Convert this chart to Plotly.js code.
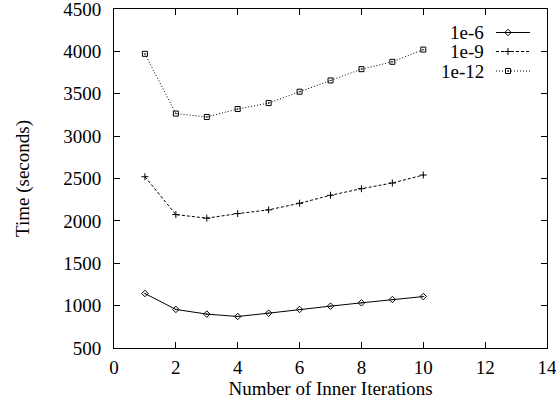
<!DOCTYPE html>
<html>
<head>
<meta charset="utf-8">
<script src="https://cdn.plot.ly/plotly-3.0.1.min.js"></script>
<style>html,body{margin:0;padding:0;background:#fff;}#chart{width:556px;height:400px;}</style>
</head>
<body>
<div id="chart"></div>
<script>
// Data
var iterations = [1, 2, 3, 4, 5, 6, 7, 8, 9, 10];
var tol6  = [1143, 955, 900, 872, 911, 955, 994, 1033, 1072, 1107];
var tol9  = [2521, 2074, 2032, 2086, 2130, 2208, 2302, 2380, 2447, 2541];
var tol12 = [3971, 3266, 3226, 3320, 3390, 3524, 3657, 3790, 3877, 4021];
var seriesNames = ["1e-6", "1e-9", "1e-12"];
var xTicks = [0, 2, 4, 6, 8, 10, 12, 14];
var yTicks = [500, 1000, 1500, 2000, 2500, 3000, 3500, 4000, 4500];

var FONT = "'Liberation Serif', 'Times New Roman', serif";

// styles per series
var dashes = ["solid", "3px,2px", "1px,2px"];
var symbols = ["diamond-open-dot", "cross-thin-open", "square-open-dot"];
var sizes = [5, 5, 5];
var seriesData = [tol6, tol9, tol12];

var traces = seriesData.map(function (y, i) {
  return {
    x: iterations, y: y, type: "scatter", mode: "lines+markers",
    name: seriesNames[i], showlegend: false,
    line: {color: "#000", width: 1, dash: dashes[i]},
    marker: {symbol: symbols[i], size: sizes[i], color: "#000", line: {color: "#000", width: 1}}
  };
});

// Key (gnuplot style: text on the left, sample on the right), drawn on an overlay
// axis pair whose ranges are the plot area's pixel coordinates.
var keyRowY = [32.5, 51.5, 71];
var keyLineX = [496, 530];
var keyMarkX = 508;
var keyTextX = 486;
var annotations = [];
seriesNames.forEach(function (n, i) {
  traces.push({
    x: keyLineX, y: [keyRowY[i], keyRowY[i]], xaxis: "x2", yaxis: "y2",
    type: "scatter", mode: "lines", showlegend: false, hoverinfo: "skip",
    line: {color: "#000", width: 1, dash: dashes[i]}
  });
  traces.push({
    x: [keyMarkX], y: [keyRowY[i]], xaxis: "x2", yaxis: "y2",
    type: "scatter", mode: "markers", showlegend: false, hoverinfo: "skip",
    marker: {symbol: symbols[i], size: sizes[i], color: "#000", line: {color: "#000", width: 1}}
  });
  annotations.push({
    text: n, xref: "x2", yref: "y2", x: keyTextX, y: keyRowY[i],
    xanchor: "right", yanchor: "middle", showarrow: false,
    font: {family: FONT, size: 19, color: "#000"}
  });
});

var axisCommon = {
  showline: true, linecolor: "#000", linewidth: 1, mirror: "ticks",
  ticks: "inside", ticklen: 6, tickwidth: 1, tickcolor: "#000",
  showgrid: false, zeroline: false, ticklabeloverflow: "allow",
  tickfont: {family: FONT, size: 19, color: "#000"}
};

var layout = {
  width: 556, height: 400,
  margin: {l: 114, r: 9, t: 9, b: 52, pad: 0},
  paper_bgcolor: "#fff", plot_bgcolor: "#fff",
  font: {family: FONT, color: "#000"},
  showlegend: false,
  xaxis: Object.assign({}, axisCommon, {
    range: [0, 14], tickvals: xTicks, ticktext: xTicks.map(String),
    ticklabelstandoff: 2,
    title: {text: "Number of Inner Iterations", standoff: 2, font: {family: FONT, size: 19, color: "#000"}}
  }),
  yaxis: Object.assign({}, axisCommon, {
    range: [500, 4500], tickvals: yTicks, ticktext: yTicks.map(String),
    ticklabelstandoff: 8,
    title: {text: "Time (seconds)", standoff: 28, font: {family: FONT, size: 19, color: "#000"}}
  }),
  xaxis2: {overlaying: "x", range: [114, 547], visible: false, fixedrange: true},
  yaxis2: {overlaying: "y", range: [348, 9], visible: false, fixedrange: true},
  annotations: annotations
};

Plotly.newPlot("chart", traces, layout, {displayModeBar: false, staticPlot: true});
</script>
</body>
</html>
